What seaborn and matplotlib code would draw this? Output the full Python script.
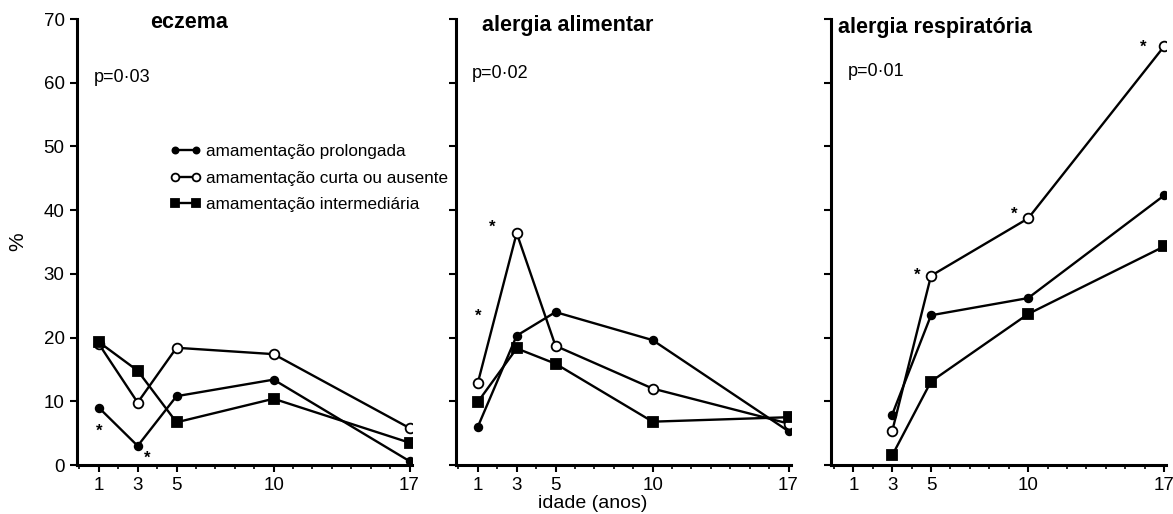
import matplotlib
matplotlib.use("Agg")
import matplotlib.pyplot as plt
import seaborn as sns
import pandas as pd

# idades (anos)
idade = [1, 3, 5, 10, 17]
idade_resp = [3, 5, 10, 17]
xticks = [1, 3, 5, 10, 17]

# % por grupo de amamentação
eczema_prolongada = [9, 3, 10.8, 13.4, 0.6]
eczema_curta = [19, 9.8, 18.4, 17.4, 5.8]
eczema_intermediaria = [19.3, 14.8, 6.7, 10.4, 3.5]

alimentar_prolongada = [6, 20.3, 24, 19.6, 5.3]
alimentar_curta = [12.9, 36.4, 18.7, 12, 6.5]
alimentar_intermediaria = [9.9, 18.3, 15.9, 6.8, 7.5]

respiratoria_prolongada = [7.9, 23.5, 26.2, 42.3]
respiratoria_curta = [5.3, 29.7, 38.7, 65.7]
respiratoria_intermediaria = [1.5, 13.1, 23.7, 34.3]

# asteriscos (significância)
ast_eczema_x = [1, 3.5]
ast_eczema_y = [5.3, 1.0]
ast_alimentar_x = [1, 1.75]
ast_alimentar_y = [23.3, 37.3]
ast_resp_x = [4.3, 9.3, 15.9]
ast_resp_y = [29.8, 39.4, 65.5]

grupos = ["amamentação prolongada", "amamentação curta ou ausente",
          "amamentação intermediária"]
titulos = ["eczema", "alergia alimentar", "alergia respiratória"]
pvalores = ["p=0·03", "p=0·02", "p=0·01"]

# %%
linhas = []
for painel, xs, series in [
    (titulos[0], idade, [eczema_prolongada, eczema_curta, eczema_intermediaria]),
    (titulos[1], idade, [alimentar_prolongada, alimentar_curta, alimentar_intermediaria]),
    (titulos[2], idade_resp, [respiratoria_prolongada, respiratoria_curta,
                              respiratoria_intermediaria]),
]:
    for g, vals in zip(grupos, series):
        for x, v in zip(xs, vals):
            linhas.append({"painel": painel, "grupo": g, "idade": x, "pct": v})
df = pd.DataFrame(linhas)

asteriscos = {
    titulos[0]: (ast_eczema_x, ast_eczema_y),
    titulos[1]: (ast_alimentar_x, ast_alimentar_y),
    titulos[2]: (ast_resp_x, ast_resp_y),
}

estilos = {
    grupos[0]: dict(marker="o", ms=5.5, mfc="black"),
    grupos[1]: dict(marker="o", ms=7, mfc="white"),
    grupos[2]: dict(marker="s", ms=6.5, mfc="black"),
}

# %%
sns.set_style("ticks")
plt.rcParams["font.family"] = ["Liberation Sans", "DejaVu Sans"]
plt.rcParams.update({"text.color": "black", "axes.labelcolor": "black",
                     "xtick.color": "black", "ytick.color": "black",
                     "axes.edgecolor": "black"})

fig = plt.figure(figsize=(11.73, 5.14), dpi=100)
lefts = [76.5 / 1173, 455.5 / 1173, 831 / 1173]
largura = 335 / 1173
base = 1 - 465 / 514
altura = 446 / 514

axes = []
for i, painel in enumerate(titulos):
    ax = fig.add_axes([lefts[i], base, largura, altura])
    sub = df[df["painel"] == painel]
    for g in grupos:
        sns.lineplot(data=sub[sub["grupo"] == g], x="idade", y="pct", ax=ax,
                     color="black", lw=1.7, mec="black", mew=1.3,
                     label=g, legend=False, **estilos[g])
    ax.set_xlim(-0.15, 17.1)
    ax.set_ylim(0, 70)
    ax.set_xticks(xticks)
    ax.set_xticks(range(0, 18), minor=True)
    ax.set_yticks(range(0, 71, 10))
    ax.tick_params(axis="both", which="major", length=5, width=1.5,
                   labelsize=13.5, direction="out")
    ax.tick_params(axis="x", which="minor", length=3, width=1.2)
    if i > 0:
        ax.set_yticklabels([])
    ax.set_xlabel("")
    ax.set_ylabel("")
    sns.despine(ax=ax)
    for s in ["left", "bottom"]:
        ax.spines[s].set_linewidth(2.2)
    xs_a, ys_a = asteriscos[painel]
    for xa, ya in zip(xs_a, ys_a):
        ax.text(xa, ya, "*", ha="center", va="center", fontsize=12,
                fontweight="bold")
    axes.append(ax)

axes[0].set_ylabel("%", fontsize=15, labelpad=12)

# títulos e p-valores
fig.text(150 / 1173, 1 - 22 / 514, titulos[0], fontsize=15.5, fontweight="bold",
         va="center")
fig.text(482 / 1173, 1 - 25 / 514, titulos[1], fontsize=15.5, fontweight="bold",
         va="center")
fig.text(838 / 1173, 1 - 27 / 514, titulos[2], fontsize=15.5, fontweight="bold",
         va="center")
fig.text(94 / 1173, 1 - 77 / 514, pvalores[0], fontsize=13, va="center")
fig.text(472 / 1173, 1 - 74 / 514, pvalores[1], fontsize=13, va="center")
fig.text(848 / 1173, 1 - 72 / 514, pvalores[2], fontsize=13, va="center")

fig.text(593 / 1173, 1 - 503 / 514, "idade (anos)", fontsize=14,
         ha="center", va="center")

h, l = axes[0].get_legend_handles_labels()
fig.legend(h, l, loc="upper left", bbox_to_anchor=(170 / 1173, 1 - 144 / 514),
           frameon=False, fontsize=12.3, numpoints=2, handlelength=1.8,
           handletextpad=0.3, labelspacing=0.68, borderpad=0, borderaxespad=0,
           markerscale=0.8)

fig.savefig("out.png", dpi=100)
